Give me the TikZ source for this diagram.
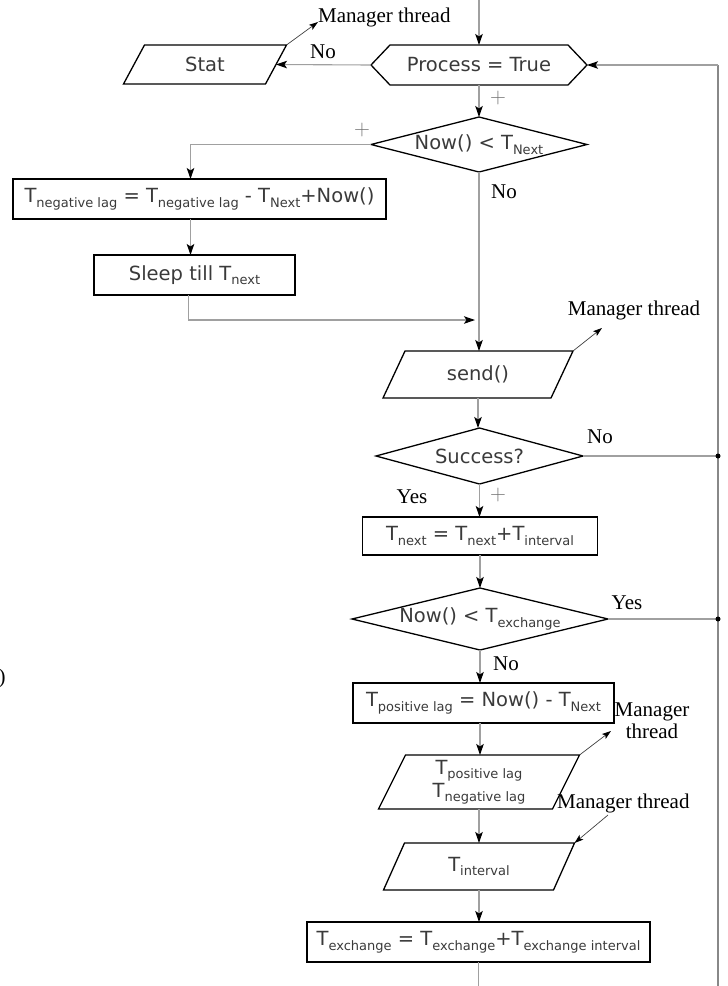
\documentclass[tikz,border=0pt]{standalone}
\usepackage{fontspec}
\usetikzlibrary{arrows.meta,calc}
\newfontfamily\djv{DejaVu Sans}
\newfontfamily\tms{Liberation Serif}
\definecolor{txt}{HTML}{3A3A3A}
\definecolor{ln}{HTML}{A0A0A0}
\newcommand\bxfont{\djv\fontsize{19.5}{23}\selectfont}
\newcommand\lbfont{\tms\fontsize{21}{22}\selectfont}
\newcommand\sbs[1]{\raisebox{-4.5pt}{\fontsize{13}{13}\selectfont #1}}
\newcommand\pgram[2]{\draw[outline] ([xshift=#2/2]#1.north west) -- ([xshift=#2/2]#1.north east) -- ([xshift=-#2/2]#1.south east) -- ([xshift=-#2/2]#1.south west) -- cycle;}
\newcommand\dmnd[1]{\draw[outline] (#1.west) -- (#1.north) -- (#1.east) -- (#1.south) -- cycle;}
\begin{document}
\begin{tikzpicture}[x=1pt,y=-1pt,
  shp/.style 2 args={minimum width=#1,minimum height=#2,inner sep=0pt,outer sep=0pt,font=\bxfont,text=txt,align=center},
  rbox/.style 2 args={shp={#1}{#2},draw=black,line width=1.3pt},
  outline/.style={draw=black,line width=1.3pt,line join=miter},
  conn/.style={draw=ln,line width=1.1pt,-{Stealth[length=11pt,width=7.5pt,inset=2.5pt,color=black]}},
  plain/.style={draw=ln,line width=1.1pt},
  mgr/.style={draw=black!75,line width=0.7pt,-{Stealth[length=9pt,width=6pt,inset=2pt,color=black]}},
  lbl/.style={font=\lbfont,text=black,inner sep=0pt},
  plus/.style={font=\fontsize{22}{22}\selectfont,text=black!55,inner sep=0pt}]
\useasboundingbox (0,0) rectangle (728,986);

% nodes
\node[shp={216}{40}] (proc) at (479,65) {Process = True};
\node[shp={142}{39}] (stat) at (205,64.5) {Stat};
\node[shp={216}{55}] (nowN) at (479,144.5) {Now() < T\sbs{Next}};
\node[rbox={373}{40}] (neg) at (199.5,199) {T\sbs{negative lag} = T\sbs{negative lag} - T\sbs{Next}+Now()};
\node[rbox={201}{40}] (sleep) at (194.5,275) {Sleep till T\sbs{next}};
\node[shp={168}{47}] (send) at (478,374.5) {send()};
\node[shp={207}{56}] (succ) at (479.5,456) {Success?};
\node[rbox={235}{38}] (tnext) at (480,536) {T\sbs{next} = T\sbs{next}+T\sbs{interval}};
\node[shp={256}{62}] (nowX) at (480,619) {Now() < T\sbs{exchange}};
\node[rbox={261}{40}] (pos) at (483.5,703) {T\sbs{positive lag} = Now() - T\sbs{Next}};
\node[shp={174}{54}] (lags) at (479,782) {T\sbs{positive lag}\\T\sbs{negative lag}};
\node[shp={170}{47}] (tint) at (479,866.5) {T\sbs{interval}};
\node[rbox={343}{40}] (exch) at (478.5,942) {T\sbs{exchange} = T\sbs{exchange}+T\sbs{exchange interval}};

% outlines
\draw[outline] (proc.west) -- ([xshift=19]proc.north west) -- ([xshift=-19]proc.north east) -- (proc.east) -- ([xshift=-19]proc.south east) -- ([xshift=19]proc.south west) -- cycle;
\pgram{stat}{21}
\pgram{send}{22}
\pgram{lags}{27}
\pgram{tint}{21}
\dmnd{nowN}
\dmnd{succ}
\dmnd{nowX}

% coordinates
\coordinate (top) at (479,0);
\coordinate (join) at (475,320);
\coordinate (rt) at (718,65);
\coordinate (rb) at (718,986);
\coordinate (rs) at (718,456);
\coordinate (rx) at (718,619);
\coordinate (bot) at (479,986);

% connectors
\draw[conn] (top) -- (proc.north);
\draw[conn] (proc.west) -- (stat.east);
\draw[conn] (proc.south) -- (nowN.north);
\draw[conn] (nowN.west) -| ([xshift=-9]neg.north);
\draw[conn] ([xshift=-9]neg.south) -- ([xshift=-4]sleep.north);
\draw[conn] ([xshift=-6]sleep.south) |- (join);
\draw[conn] (nowN.south) -- (nowN.south |- send.north);
\draw[conn] (send.south) -- (send.south |- succ.north);
\draw[plain] (succ.east) -- (rs);
\draw[conn] (succ.south) -- (succ.south |- tnext.north);
\draw[conn] (tnext.south) -- (tnext.south |- nowX.north);
\draw[plain] (nowX.east) -- (rx);
\draw[conn] (nowX.south) -- (nowX.south |- pos.north);
\draw[conn] (nowX.south |- pos.south) -- (nowX.south |- lags.north);
\draw[conn] (lags.south) -- (lags.south |- tint.north);
\draw[conn] (tint.south) -- (tint.south |- exch.north);
\draw[plain] (exch.south) -- (exch.south |- bot);
\draw[draw=ln!85!black,line width=2pt] (rb) -- (rt);
\draw[conn] (rt) -- (proc.east);
\fill (rs) circle (2.5);
\fill (rx) circle (2.5);

% manager thread labels and arrows
\node[lbl,anchor=west] (mt1) at (318,17) {Manager thread};
\draw[mgr] ([xshift=10.5]stat.north east) -- ([yshift=-5pt]mt1.west);
\node[lbl] (mt2) at (634,310) {Manager thread};
\coordinate (m2) at (602,328);
\draw[mgr] ([xshift=11]send.north east) -- (m2);
\node[lbl,align=center] (mt3) at (652,721) {Manager\\thread};
\coordinate (m3) at (611,731);
\draw[mgr] ([xshift=13.5]lags.north east) -- (m3);
\node[lbl,anchor=west] (mt4) at (557,803) {Manager thread};
\coordinate (m4) at (608,815);
\draw[mgr] (m4) -- ([xshift=10.5]tint.north east);

% branch labels
\node[lbl] (l1) at (323,52) {No};
\node[plus] (p1) at (498,98) {+};
\node[plus] (p2) at (362,130) {+};
\node[lbl] (l2) at (504,192) {No};
\node[lbl] (l3) at (600,437) {No};
\node[lbl] (l4) at (412,497) {Yes};
\node[plus] (p3) at (498,495) {+};
\node[lbl] (l5) at (627,603) {Yes};
\node[lbl] (l6) at (506,664) {No};
\node[lbl] (stray) at (2,678) {)};
\end{tikzpicture}
\end{document}
